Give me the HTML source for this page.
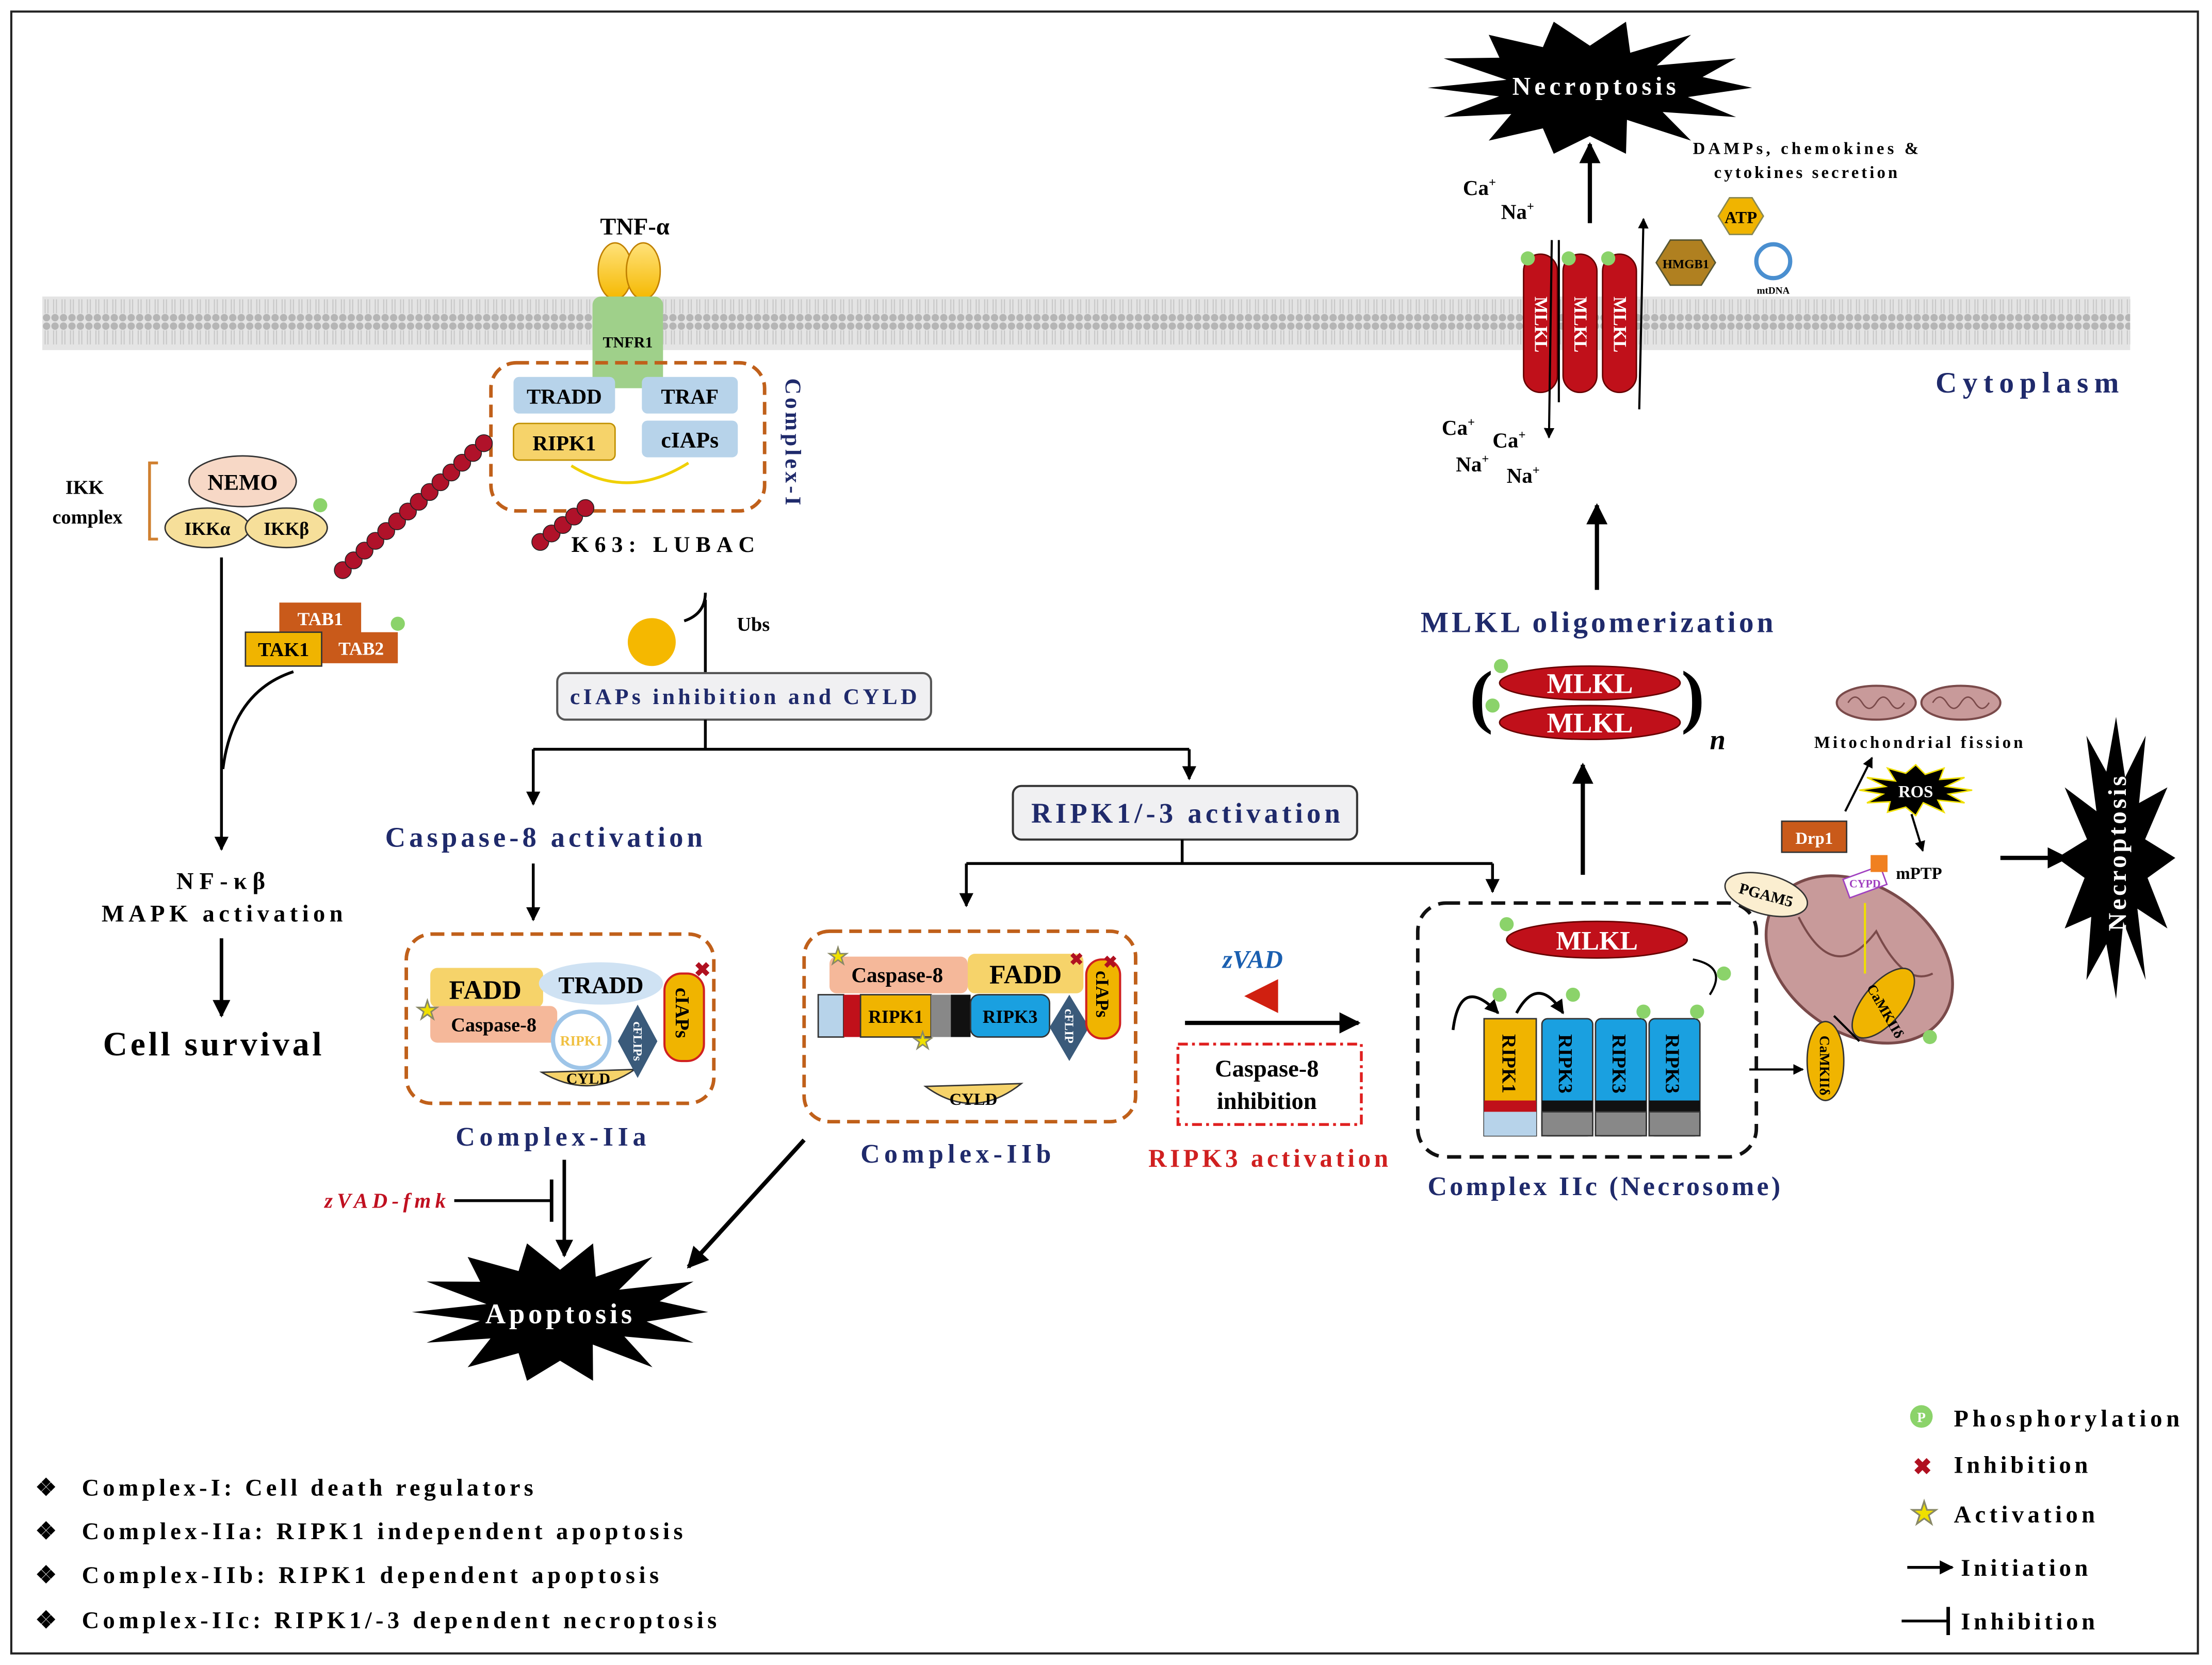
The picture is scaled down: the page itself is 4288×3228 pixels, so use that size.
<!DOCTYPE html>
<html><head><meta charset="utf-8">
<style>
html,body{margin:0;padding:0;background:#fff}
svg{display:block}
text{font-family:"Liberation Serif",serif;font-weight:bold}
</style></head>
<body>
<svg id="s" width="4288" height="3228" viewBox="0 0 1568 1180" xmlns="http://www.w3.org/2000/svg">
<defs>
<pattern id="mem" x="0" y="0" width="6" height="38" patternUnits="userSpaceOnUse">
<rect width="6" height="38" fill="#e4e4e4"/>
<circle cx="3" cy="3" r="2.6" fill="#b5b5b5"/>
<circle cx="3" cy="35" r="2.6" fill="#b5b5b5"/>
<line x1="2" y1="6" x2="2" y2="16" stroke="#c8c8c8" stroke-width="0.8"/>
<line x1="4" y1="6" x2="4" y2="16" stroke="#c8c8c8" stroke-width="0.8"/>
<line x1="2" y1="22" x2="2" y2="32" stroke="#c8c8c8" stroke-width="0.8"/>
<line x1="4" y1="22" x2="4" y2="32" stroke="#c8c8c8" stroke-width="0.8"/>
</pattern>
<marker id="ar" viewBox="0 0 10 10" refX="9" refY="5" markerWidth="5" markerHeight="5" orient="auto"><path d="M0,0L10,5L0,10z" fill="#000"/></marker>
<linearGradient id="yel" x1="0" y1="0" x2="0" y2="1"><stop offset="0" stop-color="#ffe27a"/><stop offset="1" stop-color="#f5b800"/></linearGradient>
</defs>
<rect x="8" y="8" width="1550" height="1164" fill="#fff" stroke="#222" stroke-width="1.5"/>
<rect x="30" y="210" width="1480" height="38" fill="url(#mem)"/>
<text x="1372" y="278" font-size="21" fill="#1f2a6b" textLength="130" lengthAdjust="spacing">Cytoplasm</text>

<text x="450" y="166" font-size="17" text-anchor="middle">TNF-α</text>
<ellipse cx="436" cy="192" rx="12" ry="20" fill="url(#yel)" stroke="#c08000"/>
<ellipse cx="456" cy="192" rx="12" ry="20" fill="url(#yel)" stroke="#c08000"/>
<rect x="420" y="210" width="50" height="65" rx="6" fill="#9fd08a"/>
<text x="445" y="246" font-size="11" text-anchor="middle">TNFR1</text>

<rect x="348" y="257" width="194" height="105" rx="18" fill="none" stroke="#c0601a" stroke-width="2.5" stroke-dasharray="9,5"/>
<rect x="364" y="267" width="72" height="26" rx="4" fill="#b7d3ea"/><text x="400" y="286" font-size="15" text-anchor="middle">TRADD</text>
<rect x="455" y="267" width="68" height="26" rx="4" fill="#b7d3ea"/><text x="489" y="286" font-size="15" text-anchor="middle">TRAF</text>
<rect x="364" y="300" width="72" height="26" rx="4" fill="#f6d36a" stroke="#c09000"/><text x="400" y="319" font-size="15" text-anchor="middle">RIPK1</text>
<rect x="455" y="298" width="68" height="26" rx="4" fill="#b7d3ea"/><text x="489" y="317" font-size="16" text-anchor="middle">cIAPs</text>
<path d="M405,330 Q445,355 488,328" fill="none" stroke="#f0d000" stroke-width="2"/>
<text x="0" y="0" font-size="16" fill="#1f2a6b" transform="translate(557,268) rotate(90)" textLength="90" lengthAdjust="spacing">Complex-I</text>
<g fill="#b0122a" stroke="#222" stroke-width="0.6" id="chain"></g>
<text x="405" y="391" font-size="16" textLength="130" lengthAdjust="spacing">K63: LUBAC</text>

<text x="60" y="350" font-size="14" text-anchor="middle">IKK</text>
<text x="62" y="371" font-size="14" text-anchor="middle">complex</text>
<path d="M112,328 L106,328 L106,382 L112,382" fill="none" stroke="#d08030" stroke-width="2"/>
<ellipse cx="172" cy="341" rx="38" ry="18" fill="#f7d8c6" stroke="#333"/><text x="172" y="347" font-size="16" text-anchor="middle">NEMO</text>
<ellipse cx="147" cy="374" rx="30" ry="14" fill="#f6df9a" stroke="#333"/><text x="147" y="379" font-size="13" text-anchor="middle">IKKα</text>
<ellipse cx="203" cy="374" rx="29" ry="14" fill="#f6df9a" stroke="#333"/><text x="203" y="379" font-size="13" text-anchor="middle">IKKβ</text>
<circle cx="227" cy="358" r="5" fill="#8bd36a"/>
<rect x="198" y="427" width="58" height="22" fill="#c95a1a"/><text x="227" y="443" font-size="13" fill="#fff" text-anchor="middle">TAB1</text>
<rect x="228" y="448" width="54" height="22" fill="#c95a1a"/><text x="256" y="464" font-size="13" fill="#fff" text-anchor="middle">TAB2</text>
<rect x="174" y="448" width="54" height="24" fill="#f0b400" stroke="#333"/><text x="201" y="465" font-size="14" text-anchor="middle">TAK1</text>
<circle cx="282" cy="442" r="5" fill="#8bd36a"/>
<line x1="157" y1="395" x2="157" y2="602" stroke="#000" stroke-width="2" marker-end="url(#ar)"/>
<path d="M208,476 Q165,490 158,545" fill="none" stroke="#000" stroke-width="2"/>
<text x="125" y="630" font-size="17" textLength="63" lengthAdjust="spacing">NF-κβ</text>
<text x="72" y="653" font-size="17" textLength="171" lengthAdjust="spacing">MAPK activation</text>
<line x1="157" y1="665" x2="157" y2="720" stroke="#000" stroke-width="2.5" marker-end="url(#ar)"/>
<text x="73" y="748" font-size="24" textLength="155" lengthAdjust="spacing">Cell survival</text>

<circle cx="462" cy="455" r="17" fill="#f5b800"/>
<path d="M485,440 Q500,435 500,420" fill="none" stroke="#000" stroke-width="2"/>
<line x1="500" y1="425" x2="500" y2="478" stroke="#000" stroke-width="2"/>
<text x="534" y="447" font-size="14" text-anchor="middle">Ubs</text>
<rect x="395" y="477" width="265" height="33" rx="6" fill="#f0f0f2" stroke="#555" stroke-width="1.5"/>
<text x="404" y="499" font-size="16" fill="#1f2a6b" textLength="246" lengthAdjust="spacing">cIAPs inhibition and CYLD</text>
<line x1="500" y1="510" x2="500" y2="531" stroke="#000" stroke-width="2"/>
<line x1="378" y1="531" x2="843" y2="531" stroke="#000" stroke-width="2"/>
<line x1="378" y1="531" x2="378" y2="570" stroke="#000" stroke-width="2" marker-end="url(#ar)"/>
<line x1="843" y1="531" x2="843" y2="552" stroke="#000" stroke-width="2" marker-end="url(#ar)"/>
<text x="273" y="600" font-size="20" fill="#1f2a6b" textLength="225" lengthAdjust="spacing">Caspase-8 activation</text>
<line x1="378" y1="612" x2="378" y2="652" stroke="#000" stroke-width="2" marker-end="url(#ar)"/>
<rect x="718" y="557" width="244" height="38" rx="6" fill="#f0f0f2" stroke="#333" stroke-width="1.5"/>
<text x="731" y="583" font-size="20" fill="#1f2a6b" textLength="219" lengthAdjust="spacing">RIPK1/-3 activation</text>
<line x1="838" y1="595" x2="838" y2="612" stroke="#000" stroke-width="2"/>
<line x1="685" y1="612" x2="1058" y2="612" stroke="#000" stroke-width="2"/>
<line x1="685" y1="612" x2="685" y2="642" stroke="#000" stroke-width="2" marker-end="url(#ar)"/>
<line x1="1058" y1="612" x2="1058" y2="632" stroke="#000" stroke-width="2" marker-end="url(#ar)"/>

<rect x="288" y="662" width="218" height="120" rx="18" fill="none" stroke="#c0601a" stroke-width="2.5" stroke-dasharray="9,5"/>
<rect x="305" y="686" width="80" height="28" rx="5" fill="#f6d36a"/><text x="344" y="708" font-size="19" text-anchor="middle">FADD</text>
<ellipse cx="426" cy="697" rx="44" ry="15" fill="#cfe2f3"/><text x="426" y="704" font-size="17" text-anchor="middle">TRADD</text>
<rect x="305" y="713" width="90" height="26" rx="5" fill="#f5b89a"/><text x="350" y="731" font-size="14" text-anchor="middle">Caspase-8</text>
<circle cx="412" cy="737" r="20" fill="#fff" stroke="#9ec5e8" stroke-width="3"/><text x="412" y="741" font-size="10" fill="#f0c040" text-anchor="middle">RIPK1</text>
<path d="M384,760 Q418,780 450,758 Z" fill="#f6d36a" stroke="#333"/><text x="417" y="768" font-size="11" text-anchor="middle">CYLD</text>
<path d="M452,712 L466,738 L452,764 L438,738Z" fill="#3a5a7a"/><text x="0" y="0" font-size="9" fill="#fff" transform="translate(449,724) rotate(90)">cFLIPs</text>
<rect x="471" y="690" width="28" height="62" rx="12" fill="#f0b400" stroke="#d02020" stroke-width="1.5"/><text x="0" y="0" font-size="14" transform="translate(479,700) rotate(90)">cIAPs</text>
<text x="492" y="692" font-size="14" fill="#b01020">✖</text>
<text x="303" y="722" font-size="18" fill="#f0e000" stroke="#886" stroke-width="0.5" text-anchor="middle">★</text>
<text x="323" y="812" font-size="19" fill="#1f2a6b" textLength="135" lengthAdjust="spacing">Complex-IIa</text>

<rect x="570" y="660" width="235" height="135" rx="18" fill="none" stroke="#c0601a" stroke-width="2.5" stroke-dasharray="9,5"/>
<rect x="588" y="678" width="98" height="26" rx="5" fill="#f5b89a"/><text x="636" y="696" font-size="15" text-anchor="middle">Caspase-8</text>
<rect x="686" y="676" width="82" height="28" rx="5" fill="#f6d36a"/><text x="727" y="697" font-size="19" text-anchor="middle">FADD</text>
<rect x="580" y="705" width="18" height="30" fill="#b7d3ea" stroke="#333"/><rect x="598" y="705" width="12" height="30" fill="#c0101a"/>
<rect x="610" y="705" width="50" height="30" fill="#f0b400" stroke="#333"/><text x="635" y="725" font-size="13" text-anchor="middle">RIPK1</text>
<rect x="660" y="705" width="14" height="30" fill="#888"/><rect x="674" y="705" width="14" height="30" fill="#111"/>
<rect x="688" y="705" width="56" height="30" rx="6" fill="#1aa0e0" stroke="#333"/><text x="716" y="725" font-size="13" text-anchor="middle">RIPK3</text>
<path d="M758,705 L772,728 L758,752 L744,728Z" fill="#3a5a7a"/><text x="0" y="0" font-size="9" fill="#fff" transform="translate(755,715) rotate(90)">cFLIP</text>
<rect x="770" y="680" width="24" height="56" rx="11" fill="#f0b400" stroke="#d02020" stroke-width="1.5"/><text x="0" y="0" font-size="13" transform="translate(777,688) rotate(90)">cIAPs</text>
<text x="758" y="684" font-size="12" fill="#b01020">✖</text><text x="782" y="686" font-size="12" fill="#b01020">✖</text>
<text x="594" y="683" font-size="16" fill="#f0e000" stroke="#886" stroke-width="0.5" text-anchor="middle">★</text>
<text x="654" y="743" font-size="16" fill="#f0e000" stroke="#886" stroke-width="0.5" text-anchor="middle">★</text>
<path d="M656,770 Q690,795 724,768 Z" fill="#f6d36a" stroke="#333"/><text x="690" y="783" font-size="12" text-anchor="middle">CYLD</text>
<text x="610" y="824" font-size="19" fill="#1f2a6b" textLength="135" lengthAdjust="spacing">Complex-IIb</text>

<text x="888" y="686" font-size="18" font-style="italic" fill="#1a5fb0" text-anchor="middle">zVAD</text>
<path d="M882,706 L906,694 L906,718Z" fill="#d02010"/>
<line x1="840" y1="725" x2="963" y2="725" stroke="#000" stroke-width="3" marker-end="url(#ar)"/>
<rect x="835" y="740" width="130" height="57" fill="none" stroke="#e02020" stroke-width="2" stroke-dasharray="7,3,2,3"/>
<text x="898" y="763" font-size="17" text-anchor="middle">Caspase-8</text>
<text x="898" y="786" font-size="17" text-anchor="middle">inhibition</text>
<text x="814" y="827" font-size="18" fill="#d02020" textLength="170" lengthAdjust="spacing">RIPK3 activation</text>

<rect x="1005" y="640" width="240" height="180" rx="20" fill="none" stroke="#111" stroke-width="2.5" stroke-dasharray="10,6"/>
<ellipse cx="1132" cy="666" rx="64" ry="13" fill="#c0101a" stroke="#600"/><text x="1132" y="673" font-size="19" fill="#fff" text-anchor="middle">MLKL</text>
<circle cx="1068" cy="655" r="5" fill="#8bd36a"/>
<path d="M1200,680 Q1225,685 1212,705" fill="none" stroke="#000" stroke-width="1.5"/><circle cx="1222" cy="690" r="5" fill="#8bd36a"/>
<rect x="1052" y="722" width="37" height="83" fill="#f0b400" stroke="#333"/><rect x="1052" y="780" width="37" height="8" fill="#c0101a"/><rect x="1052" y="788" width="37" height="17" fill="#b7d3ea"/>
<text x="0" y="0" font-size="14" transform="translate(1065,733) rotate(90)">RIPK1</text>
<g id="r3"></g>
<path d="M1030,730 Q1035,690 1062,718" fill="none" stroke="#000" stroke-width="2" marker-end="url(#ar)"/>
<path d="M1075,718 Q1090,690 1108,718" fill="none" stroke="#000" stroke-width="2" marker-end="url(#ar)"/>
<circle cx="1063" cy="705" r="5" fill="#8bd36a"/><circle cx="1115" cy="705" r="5" fill="#8bd36a"/><circle cx="1165" cy="717" r="5" fill="#8bd36a"/><circle cx="1203" cy="717" r="5" fill="#8bd36a"/>
<text x="1012" y="847" font-size="19" fill="#1f2a6b" textLength="250" lengthAdjust="spacing">Complex IIc (Necrosome)</text>
<line x1="1122" y1="620" x2="1122" y2="542" stroke="#000" stroke-width="3" marker-end="url(#ar)"/>

<text x="1007" y="448" font-size="21" fill="#1f2a6b" textLength="250" lengthAdjust="spacing">MLKL oligomerization</text>
<text x="1050" y="510" font-size="50" font-weight="normal" text-anchor="middle">(</text>
<text x="1200" y="510" font-size="50" font-weight="normal" text-anchor="middle">)</text>
<text x="1212" y="531" font-size="20" font-style="italic">n</text>
<ellipse cx="1127" cy="484" rx="64" ry="12" fill="#c0101a" stroke="#600"/><text x="1127" y="491" font-size="20" fill="#fff" text-anchor="middle">MLKL</text>
<ellipse cx="1127" cy="512" rx="64" ry="12" fill="#c0101a" stroke="#600"/><text x="1127" y="519" font-size="20" fill="#fff" text-anchor="middle">MLKL</text>
<circle cx="1064" cy="472" r="5" fill="#8bd36a"/><circle cx="1058" cy="500" r="5" fill="#8bd36a"/>
<line x1="1132" y1="418" x2="1132" y2="358" stroke="#000" stroke-width="3" marker-end="url(#ar)"/>

<g id="pore"></g>
<circle cx="1083" cy="183" r="5" fill="#8bd36a"/><circle cx="1112" cy="183" r="5" fill="#8bd36a"/><circle cx="1140" cy="183" r="5" fill="#8bd36a"/>
<line x1="1105" y1="170" x2="1105" y2="285" stroke="#000" stroke-width="1.5"/>
<line x1="1100" y1="170" x2="1098" y2="310" stroke="#000" stroke-width="1.5" marker-end="url(#ar)"/>
<line x1="1162" y1="290" x2="1165" y2="155" stroke="#000" stroke-width="1.5" marker-end="url(#ar)"/>
<line x1="1127" y1="158" x2="1127" y2="102" stroke="#000" stroke-width="3" marker-end="url(#ar)"/>
<text x="1037" y="138" font-size="15">Ca<tspan font-size="9" dy="-6">+</tspan></text>
<text x="1064" y="155" font-size="15">Na<tspan font-size="9" dy="-6">+</tspan></text>
<text x="1022" y="308" font-size="15">Ca<tspan font-size="9" dy="-6">+</tspan></text>
<text x="1058" y="317" font-size="15">Ca<tspan font-size="9" dy="-6">+</tspan></text>
<text x="1032" y="334" font-size="15">Na<tspan font-size="9" dy="-6">+</tspan></text>
<text x="1068" y="342" font-size="15">Na<tspan font-size="9" dy="-6">+</tspan></text>
<text x="1200" y="109" font-size="12" textLength="160" lengthAdjust="spacing">DAMPs, chemokines &amp;</text>
<text x="1215" y="126" font-size="12" textLength="130" lengthAdjust="spacing">cytokines secretion</text>
<polygon points="1218,153 1226,140 1242,140 1250,153 1242,166 1226,166" fill="#f0b400" stroke="#885"/>
<text x="1234" y="158" font-size="12" text-anchor="middle">ATP</text>
<polygon points="1174,186 1184,170 1206,170 1216,186 1206,202 1184,202" fill="#b08020" stroke="#553"/>
<text x="1195" y="190" font-size="9" text-anchor="middle">HMGB1</text>
<circle cx="1257" cy="185" r="12" fill="none" stroke="#4a8fd0" stroke-width="3"/>
<text x="1257" y="208" font-size="7" text-anchor="middle">mtDNA</text>

<g id="mito1"></g>
<text x="1286" y="530" font-size="12" textLength="148" lengthAdjust="spacing">Mitochondrial  fission</text>
<ellipse cx="1318" cy="680" rx="72" ry="52" transform="rotate(35 1318 680)" fill="#c89a9a" stroke="#7a4a4a" stroke-width="2"/>
<path d="M1275,650 Q1300,700 1330,660 Q1350,700 1370,690" fill="none" stroke="#7a4a4a" stroke-width="1.5"/>
<rect x="1263" y="582" width="46" height="22" fill="#c95a1a" stroke="#333"/><text x="1286" y="598" font-size="12" fill="#fff" text-anchor="middle">Drp1</text>
<ellipse cx="1252" cy="634" rx="30" ry="14" transform="rotate(15 1252 634)" fill="#fbeed0" stroke="#333"/><text x="1252" y="638" font-size="11" text-anchor="middle" transform="rotate(15 1252 634)">PGAM5</text>
<rect x="1308" y="618" width="28" height="14" fill="#fff" stroke="#a040c0" transform="rotate(-20 1322 625)"/><text x="1322" y="629" font-size="8" fill="#a040c0" text-anchor="middle">CYPD</text>
<rect x="1326" y="606" width="12" height="12" fill="#f08020"/>
<text x="1344" y="623" font-size="12">mPTP</text>
<line x1="1308" y1="575" x2="1327" y2="537" stroke="#000" stroke-width="1.5" marker-end="url(#ar)"/>
<line x1="1355" y1="577" x2="1363" y2="603" stroke="#000" stroke-width="1.5" marker-end="url(#ar)"/>
<ellipse cx="1335" cy="711" rx="14" ry="30" transform="rotate(40 1335 711)" fill="#f0b400" stroke="#333"/><text x="0" y="0" font-size="10" transform="translate(1323,700) rotate(60)">CaMKIIδ</text>
<ellipse cx="1294" cy="752" rx="13" ry="28" fill="#f0b400" stroke="#333"/><text x="0" y="0" font-size="10" transform="translate(1290,734) rotate(90)">CaMKIIδ</text>
<circle cx="1368" cy="735" r="5" fill="#8bd36a"/>
<line x1="1240" y1="758" x2="1278" y2="758" stroke="#000" stroke-width="1.5" marker-end="url(#ar)"/>
<line x1="1300" y1="720" x2="1318" y2="738" stroke="#000" stroke-width="1.5"/>
<line x1="1322" y1="690" x2="1322" y2="640" stroke="#f0e000" stroke-width="1.5"/>
<line x1="1418" y1="608" x2="1465" y2="608" stroke="#000" stroke-width="3" marker-end="url(#ar)"/>

<line x1="400" y1="822" x2="400" y2="890" stroke="#000" stroke-width="2.5" marker-end="url(#ar)"/>
<line x1="322" y1="851" x2="390" y2="851" stroke="#000" stroke-width="2"/>
<line x1="391" y1="836" x2="391" y2="866" stroke="#000" stroke-width="2.5"/>
<text x="230" y="856" font-size="15" font-style="italic" fill="#c01020" textLength="86" lengthAdjust="spacing">zVAD-fmk</text>
<line x1="570" y1="808" x2="488" y2="898" stroke="#000" stroke-width="3" marker-end="url(#ar)"/>

<g id="stars"></g>
<text x="1072" y="67" font-size="18" fill="#fff" textLength="116" lengthAdjust="spacing">Necroptosis</text>
<text x="344" y="938" font-size="20" fill="#fff" textLength="104" lengthAdjust="spacing">Apoptosis</text>
<text x="0" y="0" font-size="18" fill="#fff" transform="translate(1507,660) rotate(-90)" textLength="110" lengthAdjust="spacing">Necroptosis</text>
<text x="1358" y="565" font-size="12" fill="#fff" text-anchor="middle">ROS</text>

<g font-size="17">
<text x="25" y="1060">❖</text><text x="58" y="1060" textLength="320" lengthAdjust="spacing">Complex-I: Cell death regulators</text>
<text x="25" y="1091">❖</text><text x="58" y="1091" textLength="426" lengthAdjust="spacing">Complex-IIa: RIPK1 independent apoptosis</text>
<text x="25" y="1122">❖</text><text x="58" y="1122" textLength="409" lengthAdjust="spacing">Complex-IIb: RIPK1 dependent apoptosis</text>
<text x="25" y="1154">❖</text><text x="58" y="1154" textLength="450" lengthAdjust="spacing">Complex-IIc: RIPK1/-3 dependent necroptosis</text>
</g>
<circle cx="1362" cy="1004" r="8" fill="#8bd36a"/><text x="1362" y="1008" font-size="10" fill="#fff" text-anchor="middle">P</text>
<text x="1385" y="1011" font-size="17" textLength="160" lengthAdjust="spacing">Phosphorylation</text>
<text x="1356" y="1045" font-size="16" fill="#b01020">✖</text><text x="1385" y="1044" font-size="17" textLength="95" lengthAdjust="spacing">Inhibition</text>
<text x="1364" y="1080" font-size="22" fill="#f0e000" stroke="#886" stroke-width="0.5" text-anchor="middle">★</text><text x="1385" y="1079" font-size="17" textLength="100" lengthAdjust="spacing">Activation</text>
<line x1="1352" y1="1111" x2="1384" y2="1111" stroke="#000" stroke-width="2" marker-end="url(#ar)"/><text x="1390" y="1117" font-size="17" textLength="90" lengthAdjust="spacing">Initiation</text>
<line x1="1348" y1="1149" x2="1380" y2="1149" stroke="#000" stroke-width="2"/><line x1="1381" y1="1139" x2="1381" y2="1159" stroke="#000" stroke-width="2.5"/><text x="1390" y="1155" font-size="17" textLength="95" lengthAdjust="spacing">Inhibition</text>
</svg>
<script>
var NS="http://www.w3.org/2000/svg";
function el(p,t,a){var e=document.createElementNS(NS,t);for(var k in a)e.setAttribute(k,a[k]);p.appendChild(e);return e;}
var ch=document.getElementById("chain");
for(var i=0;i<14;i++){var t=i/13;el(ch,"circle",{cx:243+t*(343-243),cy:404+t*(314-404),r:6});}
for(var i=0;i<5;i++){el(ch,"circle",{cx:383+i*8,cy:384-i*6,r:6});}
var r3=document.getElementById("r3");
[1093,1131,1169].forEach(function(x){
el(r3,"rect",{x:x,y:722,width:36,height:83,rx:4,fill:"#1aa0e0",stroke:"#333"});
el(r3,"rect",{x:x,y:780,width:36,height:8,fill:"#111"});
el(r3,"rect",{x:x,y:788,width:36,height:17,fill:"#888",stroke:"#333"});
var tx=el(r3,"text",{"font-size":"14",transform:"translate("+(x+12)+",733) rotate(90)"});tx.textContent="RIPK3";
});
var po=document.getElementById("pore");
[1092,1120,1148].forEach(function(x){
el(po,"rect",{x:x-12,y:180,width:24,height:98,rx:12,fill:"#c0101a",stroke:"#600"});
var tx=el(po,"text",{"font-size":"13",fill:"#fff",transform:"translate("+(x-4)+",210) rotate(90)"});tx.textContent="MLKL";
});
var m=document.getElementById("mito1");
[1330,1390].forEach(function(x){
el(m,"ellipse",{cx:x,cy:498,rx:28,ry:12,fill:"#c89a9a",stroke:"#7a4a4a","stroke-width":"1.5"});
el(m,"path",{d:"M"+(x-20)+",498 q5,-8 10,0 q5,8 10,0 q5,-8 10,0 q5,8 10,0",fill:"none",stroke:"#7a4a4a"});
});
function star(cx,cy,rx,ry,n,inner,fill,stroke,rot){
var pts=[];for(var i=0;i<2*n;i++){var a=(rot||0)+Math.PI*i/n;var f=(i%2==0)?1:inner*(0.85+0.3*((i*7)%5)/4);
pts.push((cx+Math.cos(a)*rx*f).toFixed(1)+","+(cy+Math.sin(a)*ry*f).toFixed(1));}
el(document.getElementById("stars"),"polygon",{points:pts.join(" "),fill:fill,stroke:stroke||"none","stroke-width":"1"});
}
star(1127,62,115,48,14,0.62,"#000");
star(397,930,105,50,14,0.6,"#000");
star(1500,608,42,100,12,0.55,"#000");
star(1358,560,40,18,12,0.6,"#000","#f0e000");
</script>
</body></html>
